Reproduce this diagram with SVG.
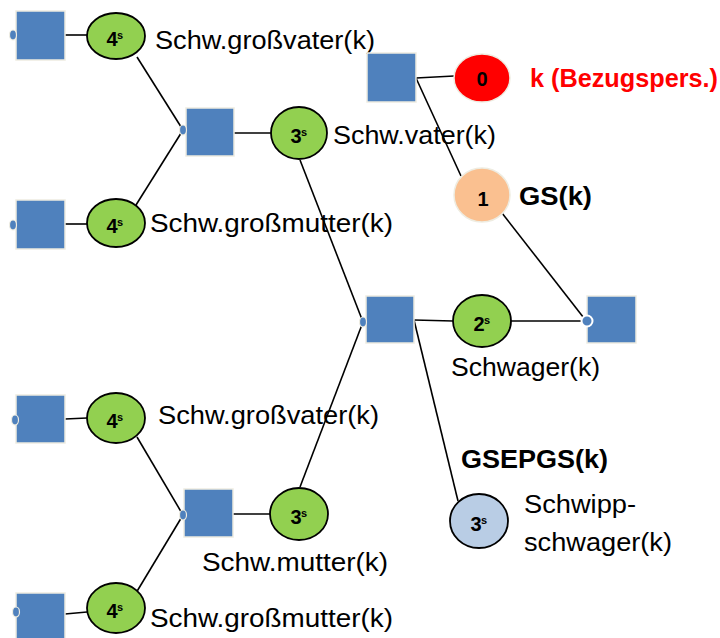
<svg xmlns="http://www.w3.org/2000/svg" width="720" height="638" viewBox="0 0 720 638">
  <defs>
    <style>
      .sq { fill: #4f81bd; stroke: #eeece1; stroke-width: 1.5; }
      .dot { fill: #4f81bd; stroke: #eeece1; stroke-width: 1.2; }
      .dotw { fill: #4f81bd; stroke: #ffffff; stroke-width: 2; }
      .g { fill: #92d050; stroke: #000000; stroke-width: 1.8; }
      .r { fill: #ff0000; stroke: #eeece1; stroke-width: 1.5; }
      .o { fill: #fac090; stroke: #eeece1; stroke-width: 1.5; }
      .b { fill: #b9cde5; stroke: #000000; stroke-width: 1.8; }
      .num { font-family: "Liberation Sans", Arial, sans-serif; font-weight: bold; font-size: 20px; fill: #000; text-anchor: middle; }
      .sup { font-family: "Liberation Sans", Arial, sans-serif; font-weight: bold; font-size: 11px; fill: #000; }
      .lbl { font-family: "Liberation Sans", Arial, sans-serif; font-size: 25px; fill: #000; }
      .bold { font-family: "Liberation Sans", Arial, sans-serif; font-weight: bold; font-size: 25px; fill: #000; }
      .conn line { stroke: #000; stroke-width: 1.6; }
    </style>
  </defs>
  <rect width="720" height="638" fill="#ffffff"/>

  <!-- connectors -->
  <g class="conn">
    <line x1="65" y1="35" x2="87" y2="35"/>
    <line x1="137" y1="57" x2="183" y2="130"/>
    <line x1="136" y1="205" x2="183" y2="130"/>
    <line x1="65" y1="224" x2="87" y2="224"/>
    <line x1="234" y1="133" x2="271" y2="133"/>
    <line x1="300" y1="160" x2="363" y2="322"/>
    <line x1="300" y1="487" x2="363" y2="322"/>
    <line x1="65" y1="419" x2="87" y2="418"/>
    <line x1="137" y1="437" x2="183" y2="515"/>
    <line x1="136" y1="593" x2="183" y2="515"/>
    <line x1="233" y1="514" x2="270" y2="514"/>
    <line x1="65" y1="614" x2="87" y2="612"/>
    <line x1="416" y1="78" x2="454" y2="76"/>
    <line x1="416" y1="78" x2="461" y2="176"/>
    <line x1="502" y1="213" x2="587" y2="322"/>
    <line x1="414" y1="320" x2="453" y2="321"/>
    <line x1="511" y1="321" x2="587" y2="321"/>
    <line x1="414" y1="320" x2="458" y2="501"/>
  </g>

  <!-- great-grandparents, upper branch -->
  <g id="sq-gv1">
    <rect class="sq" x="16" y="11" width="49" height="49"/>
    <ellipse class="dot" cx="13" cy="35" rx="3.5" ry="5"/>
  </g>
  <g id="gv1">
    <ellipse class="g" cx="116" cy="36" rx="29" ry="23"/>
    <text class="num" x="112" y="46">4</text><text class="sup" x="117" y="39">s</text>
    <text class="lbl" x="155" y="49" textLength="220" lengthAdjust="spacingAndGlyphs">Schw.großvater(k)</text>
  </g>
  <g id="sq-gm1">
    <rect class="sq" x="16" y="200" width="49" height="49"/>
    <ellipse class="dot" cx="13" cy="225" rx="3.5" ry="5"/>
  </g>
  <g id="gm1">
    <ellipse class="g" cx="116" cy="223" rx="29" ry="24"/>
    <text class="num" x="112" y="233">4</text><text class="sup" x="117" y="226">s</text>
    <text class="lbl" x="150" y="232" textLength="243" lengthAdjust="spacingAndGlyphs">Schw.großmutter(k)</text>
  </g>

  <!-- father-in-law -->
  <g id="sq-v">
    <rect class="sq" x="186" y="108" width="48" height="48"/>
    <ellipse class="dot" cx="183" cy="130" rx="3.5" ry="5"/>
  </g>
  <g id="v">
    <ellipse class="g" cx="299" cy="133" rx="28" ry="26"/>
    <text class="num" x="296" y="143">3</text><text class="sup" x="301" y="136">s</text>
    <text class="lbl" x="333" y="144" textLength="163" lengthAdjust="spacingAndGlyphs">Schw.vater(k)</text>
  </g>

  <!-- great-grandparents, lower branch -->
  <g id="sq-gv2">
    <rect class="sq" x="16" y="395" width="49" height="48"/>
    <ellipse class="dot" cx="15" cy="420" rx="3.5" ry="5"/>
  </g>
  <g id="gv2">
    <ellipse class="g" cx="116" cy="418" rx="29" ry="25"/>
    <text class="num" x="112" y="428">4</text><text class="sup" x="117" y="421">s</text>
    <text class="lbl" x="158" y="424" textLength="221" lengthAdjust="spacingAndGlyphs">Schw.großvater(k)</text>
  </g>
  <g id="sq-gm2">
    <rect class="sq" x="16" y="593" width="49" height="49"/>
    <ellipse class="dot" cx="16" cy="612" rx="3.5" ry="5"/>
  </g>
  <g id="gm2">
    <ellipse class="g" cx="116" cy="608" rx="29" ry="25"/>
    <text class="num" x="112" y="618">4</text><text class="sup" x="117" y="611">s</text>
    <text class="lbl" x="150" y="627" textLength="243" lengthAdjust="spacingAndGlyphs">Schw.großmutter(k)</text>
  </g>

  <!-- mother-in-law -->
  <g id="sq-m">
    <rect class="sq" x="184" y="489" width="49" height="48"/>
    <ellipse class="dot" cx="183" cy="515" rx="3.5" ry="5"/>
  </g>
  <g id="m">
    <ellipse class="g" cx="299" cy="514" rx="29" ry="26"/>
    <text class="num" x="296" y="524">3</text><text class="sup" x="301" y="517">s</text>
    <text class="lbl" x="202" y="571" textLength="186" lengthAdjust="spacingAndGlyphs">Schw.mutter(k)</text>
  </g>

  <!-- reference person and parents -->
  <g id="sq-k">
    <rect class="sq" x="367" y="53" width="49" height="49"/>
  </g>
  <g id="k">
    <ellipse class="r" cx="482" cy="78" rx="28" ry="24"/>
    <text class="num" x="482" y="86">0</text>
    <text class="bold" x="530" y="87" style="fill:#ff0000" textLength="188" lengthAdjust="spacingAndGlyphs">k (Bezugspers.)</text>
  </g>
  <g id="gs">
    <ellipse class="o" cx="482" cy="195" rx="28" ry="27"/>
    <text class="num" x="483" y="206">1</text>
    <text class="bold" x="519" y="205" textLength="73" lengthAdjust="spacingAndGlyphs">GS(k)</text>
  </g>
  <g id="sq-gs">
    <rect class="sq" x="587" y="296" width="49" height="47"/>
    <circle class="dotw" cx="587" cy="321" r="5.5"/>
  </g>

  <!-- spouse's parents -->
  <g id="sq-vm">
    <rect class="sq" x="366" y="296" width="48" height="47"/>
    <ellipse class="dot" cx="363" cy="322" rx="3.5" ry="5"/>
  </g>
  <g id="sw">
    <ellipse class="g" cx="482" cy="321" rx="29" ry="26"/>
    <text class="num" x="479" y="331">2</text><text class="sup" x="484" y="324">s</text>
    <text class="lbl" x="451" y="376" textLength="149" lengthAdjust="spacingAndGlyphs">Schwager(k)</text>
  </g>
  <g id="ssw">
    <ellipse class="b" cx="479" cy="521" rx="29" ry="27"/>
    <text class="num" x="476" y="531">3</text><text class="sup" x="481" y="524">s</text>
    <text class="bold" x="461" y="468" textLength="147" lengthAdjust="spacingAndGlyphs">GSEPGS(k)</text>
    <text class="lbl" x="524" y="513" textLength="112" lengthAdjust="spacingAndGlyphs">Schwipp-</text>
    <text class="lbl" x="524" y="551" textLength="148" lengthAdjust="spacingAndGlyphs">schwager(k)</text>
  </g>
</svg>
